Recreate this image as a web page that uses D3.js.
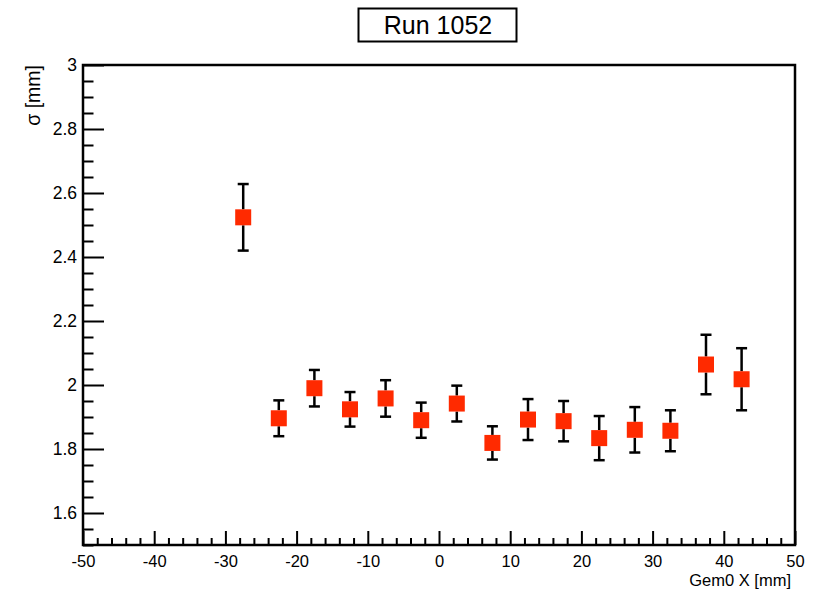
<!DOCTYPE html>
<html>
<head>
<meta charset="utf-8">
<script src="https://cdn.jsdelivr.net/npm/d3@7"></script>
<style>
  html, body { margin: 0; padding: 0; background: #fff; }
  svg { display: block; font-family: "Liberation Sans", Arial, Helvetica, sans-serif; }
</style>
</head>
<body>
<svg id="chart" width="826" height="592"></svg>
<script>
// ---- data ----
const title = "Run 1052";
const xLabel = "Gem0 X [mm]";
const yLabel = "σ [mm]";
const xPos = [-27.5, -22.5, -17.5, -12.5, -7.5, -2.5, 2.5, 7.5, 12.5, 17.5, 22.5, 27.5, 32.5, 37.5, 42.5];
const sigma = [2.524, 1.896, 1.990, 1.924, 1.958, 1.890, 1.942, 1.819, 1.892, 1.887, 1.834, 1.860, 1.857, 2.064, 2.018];
const sigmaErr = [0.104, 0.056, 0.057, 0.054, 0.057, 0.055, 0.056, 0.052, 0.064, 0.063, 0.069, 0.071, 0.064, 0.093, 0.097];
const xTicks = [-50, -40, -30, -20, -10, 0, 10, 20, 30, 40, 50];
const xTickLabels = ["-50", "-40", "-30", "-20", "-10", "0", "10", "20", "30", "40", "50"];
const yTicks = [1.6, 1.8, 2, 2.2, 2.4, 2.6, 2.8, 3];
const yTickLabels = ["1.6", "1.8", "2", "2.2", "2.4", "2.6", "2.8", "3"];
const xDomain = [-50, 50];
const yDomain = [1.5, 3];

// ---- layout ----
const W = 826, H = 592;
const L = 83, R = 795, T = 65, B = 545;
const svg = d3.select("#chart");
const x = d3.scaleLinear().domain(xDomain).range([L, R]);
const y = d3.scaleLinear().domain(yDomain).range([B, T]);

svg.append("rect").attr("width", W).attr("height", H).attr("fill", "#fff");

// minor tick values
const xMinor = d3.range(xDomain[0], xDomain[1] + 1e-9, 2).filter(v => Math.abs(v % 10) > 1e-6);
const yMinor = d3.range(0, 31).map(i => 1.5 + i * 0.05).filter(v => v <= 3 + 1e-9 && !yTicks.some(t => Math.abs(t - v) < 1e-6));

const tickLenX = 14, tickLenY = 21;

// x ticks (inward)
const gx = svg.append("g").attr("transform", `translate(0,${B})`);
gx.call(d3.axisBottom(x).tickValues(xTicks).tickSize(-tickLenX).tickPadding(10)
  .tickFormat((d, i) => xTickLabels[i]));
const gxm = svg.append("g").attr("transform", `translate(0,${B})`);
gxm.call(d3.axisBottom(x).tickValues(xMinor).tickSize(-tickLenX / 2).tickFormat(""));

// y ticks
const gy = svg.append("g").attr("transform", `translate(${L},0)`);
gy.call(d3.axisLeft(y).tickValues(yTicks).tickSize(-tickLenY).tickPadding(6)
  .tickFormat((d, i) => yTickLabels[i]));
const gym = svg.append("g").attr("transform", `translate(${L},0)`);
gym.call(d3.axisLeft(y).tickValues(yMinor).tickSize(-tickLenY / 2).tickFormat(""));

[gx, gxm, gy, gym].forEach(g => {
  g.select(".domain").remove();
  g.attr("font-family", "'Liberation Sans', Arial, sans-serif");
  g.selectAll(".tick line").attr("stroke", "#000").attr("stroke-width", 2);
  g.selectAll(".tick text").attr("fill", "#000");
});
gx.attr("font-size", 16.5);
gx.selectAll(".tick text").style("font-size", "16.5px");
gy.attr("font-size", 17.5);
gy.selectAll(".tick text").style("font-size", "17.5px").attr("x", -6);

// frame
svg.append("rect").attr("x", L).attr("y", T).attr("width", R - L).attr("height", B - T)
  .attr("fill", "none").attr("stroke", "#000").attr("stroke-width", 2.5);

// data: error bars + markers
const ms = 16, cap = 11;
const pts = xPos.map((v, i) => ({ x: v, y: sigma[i], e: sigmaErr[i] }));
const gp = svg.append("g");
pts.forEach(p => {
  const cx = x(p.x), cy = y(p.y);
  const yt = y(p.y + p.e), yb = y(p.y - p.e);
  gp.append("line").attr("x1", cx).attr("x2", cx).attr("y1", yt).attr("y2", cy - ms / 2)
    .attr("stroke", "#000").attr("stroke-width", 2.5);
  gp.append("line").attr("x1", cx).attr("x2", cx).attr("y1", cy + ms / 2).attr("y2", yb)
    .attr("stroke", "#000").attr("stroke-width", 2.5);
  gp.append("line").attr("x1", cx - cap / 2).attr("x2", cx + cap / 2).attr("y1", yt).attr("y2", yt)
    .attr("stroke", "#000").attr("stroke-width", 2.5);
  gp.append("line").attr("x1", cx - cap / 2).attr("x2", cx + cap / 2).attr("y1", yb).attr("y2", yb)
    .attr("stroke", "#000").attr("stroke-width", 2.5);
  gp.append("rect").attr("x", cx - ms / 2).attr("y", cy - ms / 2).attr("width", ms).attr("height", ms)
    .attr("fill", "#ff2a00");
});

// axis titles
svg.append("text").attr("x", 791).attr("y", 586).attr("text-anchor", "end")
  .style("font-size", "16.5px").attr("fill", "#000").text(xLabel);
svg.append("text").attr("transform", `translate(40,${T}) rotate(-90)`).attr("text-anchor", "end")
  .style("font-size", "19.5px").attr("fill", "#000").text(yLabel);

// title box
svg.append("rect").attr("x", 358.5).attr("y", 8.5).attr("width", 158).attr("height", 33)
  .attr("fill", "#fff").attr("stroke", "#000").attr("stroke-width", 2);
svg.append("text").attr("x", 438).attr("y", 34).attr("text-anchor", "middle")
  .style("font-size", "25px").attr("fill", "#000").text(title);
</script>
</body>
</html>
